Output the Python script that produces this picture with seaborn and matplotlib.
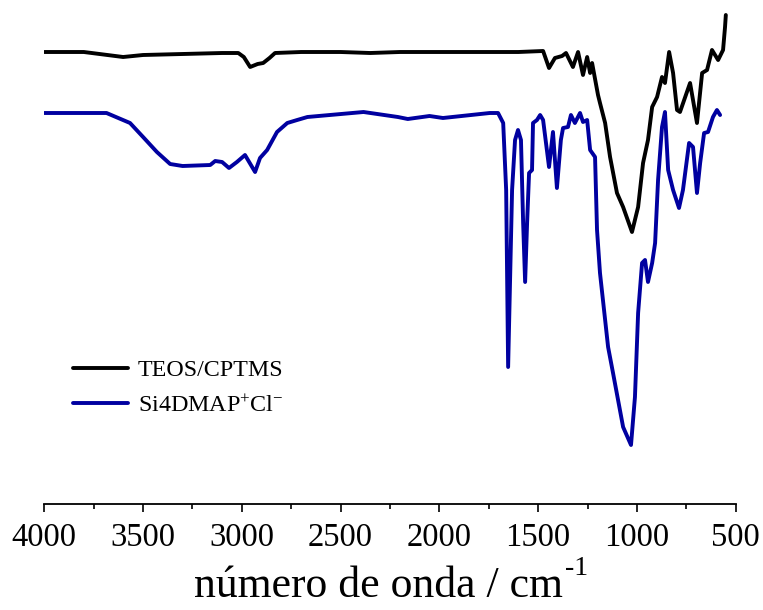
import matplotlib
matplotlib.use("Agg")
import matplotlib.pyplot as plt
import seaborn as sns
import pandas as pd

# FTIR spectra: wavenumber (cm-1) and transmittance (arbitrary units, offset curves)
teos_wn = [4000, 3800, 3601, 3500, 3300, 3100, 3018, 2990, 2958, 2920, 2892, 2860, 2832, 2700,
           2500, 2350, 2200, 2000, 1850, 1745, 1600, 1475, 1445, 1415, 1379, 1359, 1324,
           1298, 1273, 1252, 1237, 1227, 1197, 1187, 1161, 1136, 1101, 1070, 1025, 994,
           969, 944, 923, 898, 873, 858, 837, 817, 797, 782, 731, 696, 670, 645, 620,
           589, 564, 554, 550]
teos_t = [452, 452, 447, 449, 450, 451, 451, 447, 437, 440, 441, 446, 451, 452,
          452, 451, 452, 452, 452, 452, 452, 453, 436, 446, 448, 451, 437,
          452, 429, 447, 431, 441, 409, 401, 381, 347, 311, 297, 272, 297,
          341, 364, 397, 407, 427, 421, 452, 431, 394, 392, 421, 381, 431, 434, 454,
          444, 454, 477, 489]

dmap_wn = [4000, 3850, 3685, 3566, 3500, 3430, 3363, 3300, 3160, 3135, 3100, 3065, 3025,
           2984, 2933, 2908, 2872, 2822, 2770, 2720, 2668, 2384, 2210, 2160, 2050, 1982,
           1745, 1703, 1677, 1662, 1652, 1632, 1617, 1602, 1587, 1576, 1566, 1556, 1546,
           1531, 1526, 1506, 1490, 1475, 1445, 1425, 1405, 1385, 1374, 1349, 1334, 1314,
           1288, 1273, 1252, 1237, 1212, 1202, 1187, 1146, 1121, 1070, 1030, 1010, 994,
           974, 959, 944, 923, 908, 893, 873, 858, 842, 817, 787, 767, 736, 716, 696,
           680, 660, 640, 615, 595, 579]
dmap_t = [391, 391, 391, 381, 367, 352, 340, 338, 339, 343, 342, 336, 342,
          349, 332, 346, 354, 372, 381, 384, 387, 392, 387, 385, 388, 386,
          391, 391, 381, 314, 137, 314, 364, 374, 364, 281, 222, 281, 331,
          334, 381, 384, 389, 384, 337, 372, 316, 364, 376, 377, 389, 381,
          391, 382, 384, 354, 347, 274, 231, 157, 131, 77, 59, 107, 191,
          241, 244, 222, 241, 261, 324, 377, 392, 334, 314, 296, 314, 361, 357, 311,
          341, 371, 372, 387, 394, 389]

teos = pd.DataFrame({"wn": teos_wn, "T": teos_t, "amostra": "TEOS/CPTMS"})
dmap = pd.DataFrame({"wn": dmap_wn, "T": dmap_t, "amostra": r"Si4DMAP$^{+}$Cl$^{-}$"})
df = pd.concat([teos, dmap], ignore_index=True)

sns.set_style("white")
plt.rcParams["font.family"] = ["Liberation Serif", "DejaVu Serif"]
plt.rcParams["mathtext.fontset"] = "custom"
plt.rcParams["mathtext.rm"] = "Liberation Serif"
plt.rcParams["mathtext.it"] = "Liberation Serif"
plt.rcParams["mathtext.default"] = "regular"
plt.rcParams["text.color"] = "black"
plt.rcParams["axes.labelcolor"] = "black"
plt.rcParams["xtick.color"] = "black"

fig = plt.figure(figsize=(7.63, 6.10), dpi=100)
ax = fig.add_axes([44.3 / 763, 106 / 610, 691.4 / 763, 504 / 610])

sns.lineplot(data=df, x="wn", y="T", hue="amostra", sort=False, estimator=None,
             palette=["#000000", "#0000A0"], linewidth=2.8, ax=ax)

ax.set_xlim(4000, 500)
ax.set_ylim(0, 504)
ax.set_xticks(range(4000, 499, -500))
ax.set_xticks(range(3750, 500, -500), minor=True)
ax.set_yticks([])
ax.set_ylabel("")

for side in ["top", "left", "right"]:
    ax.spines[side].set_visible(False)
ax.spines["bottom"].set_linewidth(1.3)
ax.spines["bottom"].set_color("black")
ax.tick_params(axis="x", which="major", direction="out", length=6, width=1.2,
               labelsize=23.5, pad=7, bottom=True, color="black")
ax.tick_params(axis="x", which="minor", direction="out", length=3.5, width=1.2,
               bottom=True, color="black")

ax.set_xlabel("número de onda / cm", fontsize=31.5, labelpad=10)
ax.xaxis.label.set_x(0.483)
# raised "-1" exponent placed right after the unit
ax.annotate("-1", xy=(1.0, 0.78), xycoords=ax.xaxis.label, xytext=(2, 0),
            textcoords="offset points", fontsize=20, ha="left", va="baseline")

leg = ax.legend(loc="center left", bbox_to_anchor=(0.0415, 0.230), frameon=False,
                fontsize=17.3, handlelength=2.3, handletextpad=0.4, labelspacing=0.55,
                borderpad=0, borderaxespad=0)
for line in leg.get_lines():
    line.set_linewidth(2.8)

fig.savefig("out.png", dpi=100)
